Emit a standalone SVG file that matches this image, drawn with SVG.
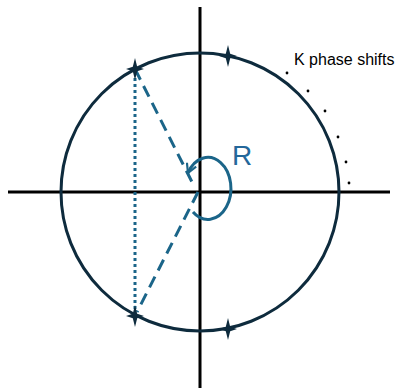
<svg xmlns="http://www.w3.org/2000/svg" width="395" height="388" viewBox="0 0 395 388">
  <style>
    .axis { stroke: #000000; stroke-width: 3; fill: none; }
    .circ { stroke: #0E2B3D; stroke-width: 3; fill: none; }
    .dash { stroke: #1B6589; stroke-width: 3; fill: none; stroke-dasharray: 12 7; }
    .dot { stroke: #1B6589; stroke-width: 3; fill: none; stroke-dasharray: 3 3; }
    .loop { stroke: #1B6589; stroke-width: 3; fill: none; }
    .star { fill: #0E2B3D; }
    .kdot { fill: #000000; }
    .lbl { font-family: "Liberation Sans", Arial, sans-serif; }
  </style>
  <defs>
    <path id="star" d="M0,-11 L2.2,-2.2 L9,0 L2.2,2.2 L0,11 L-2.2,2.2 L-9,0 L-2.2,-2.2 Z"/>
    <marker id="chev" viewBox="0 0 12 12" refX="10" refY="6" markerWidth="4" markerHeight="4" orient="auto" markerUnits="strokeWidth">
      <path d="M1,1 L10,6 L1,11" fill="none" stroke="#1B6589" stroke-width="2.2"/>
    </marker>
  </defs>
  <g id="axes">
    <line class="axis" x1="8" y1="192" x2="390" y2="192"/>
    <line class="axis" x1="200" y1="7" x2="200" y2="388"/>
  </g>
  <g id="unit-circle">
    <circle class="circ" cx="200" cy="192" r="139"/>
  </g>
  <g id="connectors">
    <line class="dash" x1="135" y1="69" x2="193" y2="184"/>
    <line class="dash" x1="198" y1="192" x2="137" y2="312"/>
    <line class="dot" x1="135" y1="78" x2="135" y2="310"/>
    <path class="loop" d="M 193 212 A 23 31 0 1 0 188 173" marker-end="url(#chev)"/>
  </g>
  <g id="stars">
    <use href="#star" class="star" x="135" y="69"/>
    <use href="#star" class="star" x="228" y="56"/>
    <use href="#star" class="star" x="135" y="316"/>
    <use href="#star" class="star" x="228" y="329"/>
  </g>
  <g id="label-R">
    <text class="lbl" x="232" y="165" font-size="28" fill="#24679A">R</text>
  </g>
  <g id="label-K">
    <text class="lbl" x="294" y="65" font-size="16" fill="#000000">K phase shifts</text>
    <circle class="kdot" cx="287" cy="73" r="1.4"/>
    <circle class="kdot" cx="308" cy="91" r="1.4"/>
    <circle class="kdot" cx="325" cy="111" r="1.4"/>
    <circle class="kdot" cx="338" cy="137" r="1.4"/>
    <circle class="kdot" cx="346" cy="162" r="1.4"/>
    <circle class="kdot" cx="349" cy="183" r="1.4"/>
  </g>
</svg>
